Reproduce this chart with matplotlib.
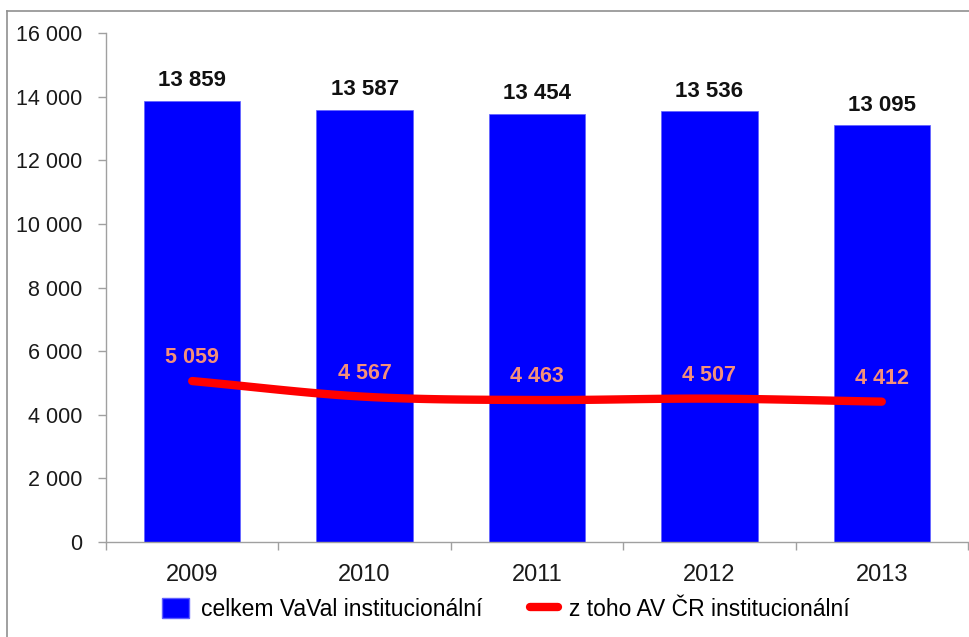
import matplotlib
matplotlib.use("Agg")
import matplotlib.pyplot as plt
import numpy as np
from matplotlib.lines import Line2D

years = ["2009", "2010", "2011", "2012", "2013"]
total = [13859, 13587, 13454, 13536, 13095]
acad = [5059, 4567, 4463, 4507, 4412]
yticks = [0, 2000, 4000, 6000, 8000, 10000, 12000, 14000, 16000]
series_names = ["celkem VaVal institucionální", "z toho AV ČR institucionální"]

def fmt(v):
    return f"{v:,}".replace(",", " ")

REG = ["Liberation Sans", "DejaVu Sans"]

fig = plt.figure(figsize=(9.69, 6.37), dpi=100)
ax = fig.add_axes([106/969, 1-542/637, (968-106)/969, (542-33)/637])

x = np.arange(len(years))
ax.bar(x, total, width=0.56, color="#0000FF", edgecolor="#6060FF", linewidth=0.5, zorder=2)

# smoothed line (Catmull-Rom through the data points)
def catmull(xs, ys, n=30):
    xs = np.asarray(xs, float); ys = np.asarray(ys, float)
    px = np.concatenate([[2*xs[0]-xs[1]], xs, [2*xs[-1]-xs[-2]]])
    py = np.concatenate([[2*ys[0]-ys[1]], ys, [2*ys[-1]-ys[-2]]])
    ox, oy = [], []
    for i in range(1, len(px)-2):
        t = np.linspace(0, 1, n, endpoint=(i == len(px)-3))
        for P, out in ((px, ox), (py, oy)):
            p0, p1, p2, p3 = P[i-1], P[i], P[i+1], P[i+2]
            out.extend(0.5*((2*p1) + (-p0+p2)*t + (2*p0-5*p1+4*p2-p3)*t**2 + (-p0+3*p1-3*p2+p3)*t**3))
    return np.array(ox), np.array(oy)

sx, sy = catmull(x, acad)
ax.plot(sx, sy, color="#FF0000", linewidth=6, solid_capstyle="round", zorder=3)

for xi, v in zip(x, total):
    ax.annotate(fmt(v), (xi, v), xytext=(0, 14.5), textcoords="offset points",
                ha="center", va="center", fontsize=16, fontweight="bold",
                family=REG, color="#111111", zorder=4)
for xi, v in zip(x, acad):
    ax.annotate(fmt(v), (xi, v), xytext=(0, 17), textcoords="offset points",
                ha="center", va="center", fontsize=15.5, fontweight="bold",
                family=REG, color="#F4907A", zorder=4)

ax.set_xlim(-0.5, len(years)-0.5)
ax.set_ylim(0, 16000)
ax.set_yticks(yticks)
ax.set_yticklabels([fmt(v) for v in yticks], family=REG, fontsize=15.5, color="#1a1a1a")
ax.set_xticks(x)
ax.set_xticklabels(years, family=REG, fontsize=17, color="#1a1a1a")
ax.set_xticks(np.arange(-0.5, len(years)), minor=True)
ax.tick_params(axis="x", which="major", length=0, pad=16)
ax.tick_params(axis="x", which="minor", length=6, color="#A0A0A0", width=1)
ax.tick_params(axis="y", which="major", length=6, color="#A0A0A0", width=1, pad=11)

for s in ["top", "right"]:
    ax.spines[s].set_visible(False)
for s in ["left", "bottom"]:
    ax.spines[s].set_color("#A0A0A0")
    ax.spines[s].set_linewidth(1)

handles = [plt.Rectangle((0, 0), 1, 1, facecolor="#0000FF", edgecolor="#6060FF"),
           Line2D([0], [0], color="#FF0000", linewidth=6, solid_capstyle="round")]
leg = fig.legend(handles, series_names, loc="center", bbox_to_anchor=(0.522, 1-609/637),
                 ncol=2, frameon=False, prop={"family": REG, "size": 16.5},
                 handlelength=1.2, handleheight=0.95, columnspacing=2.1, handletextpad=0.5)

# outer frame (top and left edges visible)
fig.add_artist(Line2D([7/969, 1], [1-11/637, 1-11/637], transform=fig.transFigure, color="#909090", lw=1.2))
fig.add_artist(Line2D([7/969, 7/969], [0, 1-11/637], transform=fig.transFigure, color="#909090", lw=1.2))

fig.savefig("out.png", dpi=100)
